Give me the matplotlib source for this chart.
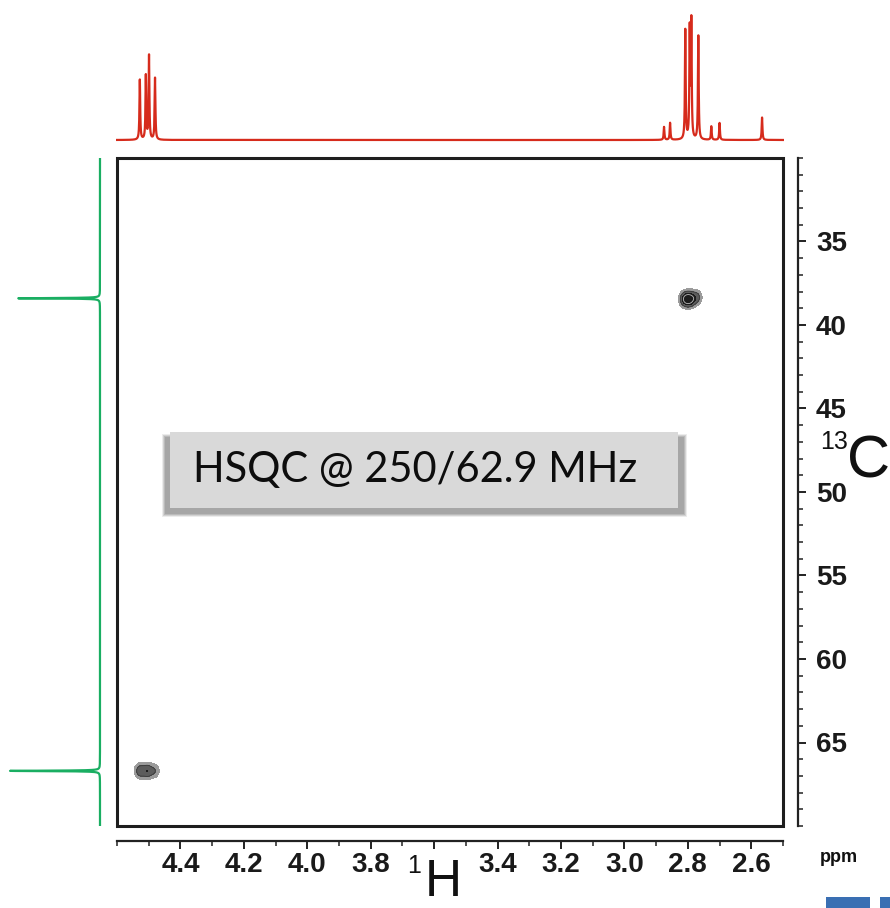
import numpy as np
import matplotlib
matplotlib.use("Agg")
import matplotlib.pyplot as plt
from matplotlib.patches import Rectangle
from matplotlib.ticker import MultipleLocator, FixedLocator

# ---------------- data ----------------
# 1H projection peaks (ppm, relative height)
h_shifts = [4.528, 4.509, 4.499, 4.480,
            2.875, 2.856, 2.808, 2.794, 2.789, 2.767, 2.726, 2.700, 2.566]
h_heights = [60, 64, 84, 62,
             13, 17, 110, 108, 116, 104, 13.5, 17, 22.5]
# 13C projection peaks (ppm, relative height)
c_shifts = [38.4, 66.7]
c_heights = [82, 90]
# 2D cross-peak components (1H ppm, 13C ppm, amplitude)
cross_h = [2.808, 2.793, 2.773, 4.527, 4.504, 4.482]
cross_c = [38.45, 38.45, 38.35, 66.7, 66.7, 66.7]
cross_amp = [1.0, 1.1, 0.5, 0.6, 0.66, 0.32]

x_major = [4.4, 4.2, 4.0, 3.8, 3.6, 3.4, 3.2, 3.0, 2.8, 2.6]
x_labels = ["4.4", "4.2", "4.0", "3.8", "", "3.4", "3.2", "3.0", "2.8", "2.6"]
y_major = [35, 40, 45, 50, 55, 60, 65]
y_labels = ["35", "40", "45", "50", "55", "60", "65"]

XLIM = (4.60, 2.50)
YLIM = (70.0, 30.0)

TICKFONT = "Liberation Sans"

W, H = 890, 908
fig = plt.figure(figsize=(W / 100, H / 100), dpi=100)
PX = 72 / 100  # points per pixel

def fr(x0, y0, x1, y1):
    return [x0 / W, 1 - y1 / H, (x1 - x0) / W, (y1 - y0) / H]

BX0, BY0, BX1, BY1 = 117, 158, 783, 826

# ---------------- main 2D axes ----------------
ax = fig.add_axes(fr(BX0, BY0, BX1, BY1))
ax.set_xlim(*XLIM)
ax.set_ylim(*YLIM)
ax.set_facecolor("white")
for s in ["top", "left"]:
    ax.spines[s].set_visible(False)
ax.spines["bottom"].set_position(("outward", 15 * PX))
ax.spines["right"].set_position(("outward", 15 * PX))
for s in ["bottom", "right"]:
    ax.spines[s].set_linewidth(1.6)
    ax.spines[s].set_color("#222222")
ax.yaxis.tick_right()
ax.xaxis.set_major_locator(FixedLocator(x_major))
ax.set_xticklabels(x_labels)
ax.xaxis.set_minor_locator(MultipleLocator(0.1))
ax.yaxis.set_major_locator(FixedLocator(y_major))
ax.set_yticklabels(y_labels)
ax.yaxis.set_minor_locator(MultipleLocator(1))
ax.tick_params(axis="both", which="major", length=8 * PX, width=1.4, color="#222222",
               labelsize=20, direction="out")
ax.tick_params(axis="both", which="minor", length=5 * PX, width=1.1, color="#222222",
               direction="out")
ax.tick_params(axis="x", pad=3 * PX)
ax.tick_params(axis="y", pad=10 * PX)
for lab in ax.get_xticklabels() + ax.get_yticklabels():
    lab.set_fontfamily(TICKFONT)
    lab.set_fontweight("bold")
    lab.set_color("#1a1a1a")

# box frame
ax.add_patch(Rectangle((0, 0), 1, 1, transform=ax.transAxes, fill=False,
                       lw=2.2, edgecolor="#1e1e1e", clip_on=False, zorder=5))

# cross peaks as contours
gx = np.linspace(XLIM[1], XLIM[0], 1400)
gy = np.linspace(YLIM[1], YLIM[0], 1200)
GX, GY = np.meshgrid(gx, gy)
Z = np.zeros_like(GX)
for hh, cc, aa in zip(cross_h, cross_c, cross_amp):
    Z += aa * np.exp(-((GX - hh) ** 2) / (2 * 0.0105 ** 2)
                     - ((GY - cc) ** 2) / (2 * 0.27 ** 2))
ax.contourf(GX, GY, Z, levels=[0.12, 0.35, 0.75, 5],
            colors=["#9b9b9b", "#5c5c5c", "#1c1c1c"], zorder=3)
ax.contour(GX, GY, Z, levels=[0.35, 1.0], colors=["#3a3a3a", "#bbbbbb"],
           linewidths=0.6, zorder=4)

# ---------------- top 1H projection ----------------
axt = fig.add_axes(fr(BX0 - 1, 0, BX1 + 1, 148))
xs = np.linspace(XLIM[1], XLIM[0], 10000)
spec = np.zeros_like(xs)
gam = 0.0014
for s0, hgt in zip(h_shifts, h_heights):
    spec += hgt * gam ** 2 / ((xs - s0) ** 2 + gam ** 2)
axt.plot(xs, spec, color="#d62b1c", lw=1.6)
axt.set_xlim(XLIM[0] + 1 / 317.5, XLIM[1] - 1 / 317.5)
axt.set_ylim(-8, 140)
axt.axis("off")

# ---------------- left 13C projection ----------------
axl = fig.add_axes(fr(0, BY0, 105, BY1))
ys = np.linspace(YLIM[1], YLIM[0], 8000)
cspec = np.zeros_like(ys)
cg = 0.018
for s0, hgt in zip(c_shifts, c_heights):
    cspec += hgt * cg ** 2 / ((ys - s0) ** 2 + cg ** 2)
axl.plot(-cspec, ys, color="#1aae62", lw=1.6)
axl.set_xlim(-100, 5)
axl.set_ylim(*YLIM)
axl.axis("off")

# ---------------- axis labels ----------------
fig.text(443 / W, 1 - 907 / H, "H", fontsize=37, family="Liberation Sans",
         ha="center", va="bottom", color="#111111")
fig.text(414 / W, 1 - 866 / H, "1", fontsize=18, family=TICKFONT,
         ha="center", va="center", color="#111111")
fig.text(869 / W, 1 - 462 / H, "C", fontsize=43, family="Liberation Sans",
         ha="center", va="center", color="#111111")
fig.text(834 / W, 1 - 442 / H, "13", fontsize=18, family=TICKFONT,
         ha="center", va="center", color="#111111")
fig.text(839 / W, 1 - 858 / H, "ppm", fontsize=13, family=TICKFONT,
         fontweight="bold", ha="center", va="center", color="#111111")

# ---------------- annotation box ----------------
for a, col in [(4, "#ececec"), (3, "#d2d2d2"), (2, "#bababa"), (1, "#a6a6a6")]:
    x0, y0, x1, y1 = 165 - a + 1, 436 - a + 2, 684 + a - 1, 514 + a - 1
    fig.patches.append(Rectangle((x0 / W, 1 - y1 / H), (x1 - x0) / W, (y1 - y0) / H,
                                 transform=fig.transFigure, facecolor=col,
                                 edgecolor="none", zorder=6))
fig.patches.append(Rectangle((170 / W, 1 - 508 / H), 508 / W, 76 / H,
                             transform=fig.transFigure, facecolor="#d9d9d9",
                             edgecolor="none", zorder=7))
fig.text(193 / W, 1 - 470 / H, "HSQC @ 250/62.9 MHz", fontsize=30, family="Lato",
         ha="left", va="center", color="#0d0d0d", zorder=8)

# stray blue marks at the bottom right
fig.patches.append(Rectangle((826 / W, 0), 44 / W, 11 / H, transform=fig.transFigure,
                             facecolor="#3a6fb3", edgecolor="none"))
fig.patches.append(Rectangle((880 / W, 0), 10 / W, 11 / H, transform=fig.transFigure,
                             facecolor="#3a6fb3", edgecolor="none"))

fig.savefig("out.png", dpi=100)
